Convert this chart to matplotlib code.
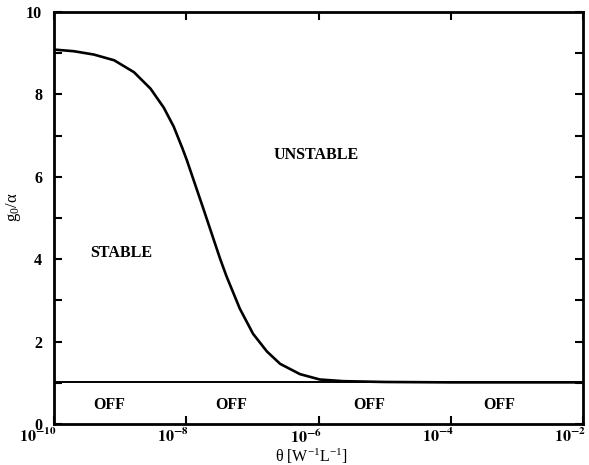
import matplotlib
matplotlib.use("Agg")
import matplotlib.pyplot as plt
import matplotlib.transforms as mtransforms
import numpy as np
from matplotlib.ticker import FixedLocator, FuncFormatter, MultipleLocator

plt.rcParams['font.family'] = ['Liberation Serif', 'DejaVu Serif']
plt.rcParams['mathtext.fontset'] = 'stix'

# curve g0/alpha vs log10(theta)
log_theta = [-10.0, -9.70, -9.40, -9.09, -8.79, -8.54, -8.34, -8.19, -8.06,
             -7.99, -7.74, -7.49, -7.39, -7.19, -6.99, -6.78, -6.58, -6.28,
             -5.98, -5.63, -5.0, -4.0, -3.0, -2.0]
g_ratio = [9.09, 9.05, 8.97, 8.83, 8.54, 8.14, 7.68, 7.22, 6.70,
           6.40, 5.22, 4.02, 3.58, 2.80, 2.19, 1.76, 1.46, 1.21,
           1.08, 1.04, 1.02, 1.01, 1.01, 1.01]
off_level = 1.01

region_labels = ["UNSTABLE", "STABLE", "OFF", "OFF", "OFF", "OFF"]
region_logx = [-6.04, -8.99, -9.17, -7.32, -5.24, -3.27]
region_y = [6.54, 4.15, 0.47, 0.47, 0.47, 0.47]

x_ticks = [-10, -8, -6, -4, -2]

fig = plt.figure(figsize=(5.89, 4.65), dpi=100)
ax = fig.add_axes([0.0917, 0.0882, 0.8981, 0.8858])

theta = 10.0 ** np.asarray(log_theta)
ax.plot(theta, g_ratio, color="black", linewidth=1.9,
        solid_joinstyle="round", solid_capstyle="round")
ax.axhline(off_level, color="black", linewidth=1.4)

for lab, lx, ly in zip(region_labels, region_logx, region_y):
    ax.text(10.0 ** lx, ly, lab, ha="center", va="center",
            fontsize=11.5, fontweight="bold")

ax.set_xscale("log")
ax.set_xlim(1e-10, 1e-2)
ax.set_ylim(0, 10)
ax.xaxis.set_major_locator(FixedLocator([10.0 ** t for t in x_ticks]))
ax.xaxis.set_minor_locator(FixedLocator([]))
ax.xaxis.set_major_formatter(FuncFormatter(
    lambda v, p: r"$\mathbf{10^{%d}}$" % int(round(np.log10(v)))))
ax.yaxis.set_major_locator(MultipleLocator(2))
ax.yaxis.set_minor_locator(MultipleLocator(1))
ax.yaxis.set_major_formatter(FuncFormatter(lambda v, p: "%d" % v))

ax.tick_params(which="both", direction="in", top=True, right=True,
               width=1.5, length=6)
ax.tick_params(axis="x", labelsize=11.5, pad=3)
ax.tick_params(axis="y", labelsize=11.5, pad=8.5)
for lab in ax.get_yticklabels():
    lab.set_fontweight("bold")

# x tick labels sit mostly left of their tick in the original
offset = mtransforms.ScaledTranslation(3 / 100, 0, fig.dpi_scale_trans)
for lab in ax.get_xticklabels():
    lab.set_horizontalalignment("right")
    lab.set_transform(lab.get_transform() + offset)

for s in ax.spines.values():
    s.set_linewidth(2.0)

ax.set_xlabel(r"$\mathregular{\theta\ [W^{-1}L^{-1}]}$", fontsize=11.5,
              va="center")
ax.xaxis.set_label_coords(0.486, -0.078)
ax.set_ylabel(r"$\mathregular{g_0/\alpha}$", fontsize=12)
ax.yaxis.set_label_coords(-0.058, 0.527)

fig.savefig("out.png", dpi=100)
